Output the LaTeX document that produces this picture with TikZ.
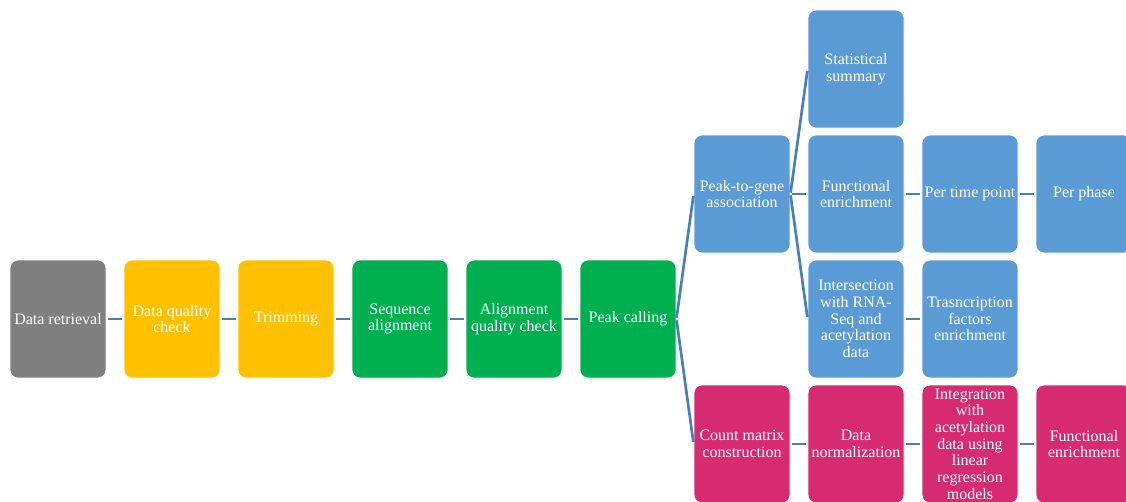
\documentclass[tikz,border=0pt]{standalone}
\usepackage{fontspec}
\setmainfont{Liberation Serif}
\definecolor{greybox}{HTML}{7F7F7F}
\definecolor{yellowbox}{HTML}{FFC000}
\definecolor{greenbox}{HTML}{00B050}
\definecolor{bluebox}{HTML}{5B9BD5}
\definecolor{pinkbox}{HTML}{D62A71}
\definecolor{linkblue}{HTML}{4A7EBB}
\tikzset{
  stage/.style={draw=white, line width=0.6pt, rounded corners=6pt,
    minimum width=72pt, minimum height=88.5pt, inner sep=1pt,
    align=center, text=white, font=\fontsize{12}{12.5}\selectfont},
  link/.style={draw=linkblue, line width=2pt, shorten <=1pt, shorten >=1.5pt}
}
\begin{document}
\begin{tikzpicture}[x=0.75pt, y=-0.75pt]
\useasboundingbox (0,0) rectangle (1126,501);

% main chain
\foreach \name/\col/\txt [count=\k from 0] in {retr/greybox/{Data retrieval},
    qc/yellowbox/{Data quality\\check}, trim/yellowbox/{Trimming},
    align/greenbox/{Sequence\\alignment}, aqc/greenbox/{Alignment\\quality check},
    peak/greenbox/{Peak calling}} {
    \node[stage, fill=\col] (\name) at ({58+114*\k},319) {\txt};
}

% peak annotation branch
\node[stage, fill=bluebox] (p2g) at (742,194) {Peak-to-gene\\association};
\node[stage, fill=bluebox] (stat) at (856,69) {Statistical\\summary};
\node[stage, fill=bluebox] (func) at (856,194) {Functional\\enrichment};
\node[stage, fill=bluebox] (inter) at (856,319) {Intersection\\with RNA-\\Seq and\\acetylation\\data};
\node[stage, fill=bluebox] (time) at (970,194) {Per time point};
\node[stage, fill=bluebox] (tf) at (970,319) {Trasncription\\factors\\enrichment};
\node[stage, fill=bluebox] (phase) at (1084,194) {Per phase};

% count branch
\node[stage, fill=pinkbox] (count) at (742,444) {Count matrix\\construction};
\node[stage, fill=pinkbox] (norm) at (856,444) {Data\\normalization};
\node[stage, fill=pinkbox] (integ) at (970,444) {Integration\\with\\acetylation\\data using\\linear\\regression\\models};
\node[stage, fill=pinkbox] (fenr) at (1084,444) {Functional\\enrichment};

% connectors
\foreach \a/\b in {retr/qc, qc/trim, trim/align, align/aqc, aqc/peak,
    peak/p2g, peak/count, p2g/stat, p2g/func, p2g/inter, func/time,
    time/phase, inter/tf, count/norm, norm/integ, integ/fenr} {
    \draw[link] (\a.east) -- (\b.west);
}
\end{tikzpicture}
\end{document}
